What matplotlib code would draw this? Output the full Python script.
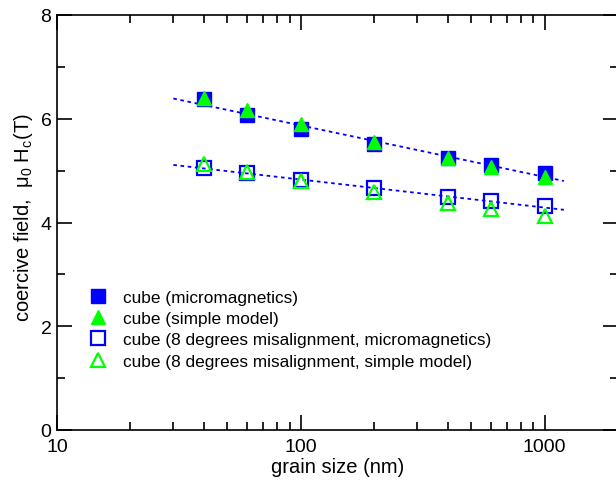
import matplotlib
matplotlib.use("Agg")
import matplotlib.pyplot as plt
from matplotlib.ticker import MultipleLocator, LogLocator, NullFormatter

plt.rcParams['font.family'] = ['Liberation Sans', 'DejaVu Sans']
plt.rcParams['mathtext.fontset'] = 'custom'
plt.rcParams['mathtext.rm'] = 'Liberation Sans'
plt.rcParams['mathtext.it'] = 'Liberation Sans'

# grain size (nm)
grain_size = [40, 60, 100, 200, 400, 600, 1000]

# coercive field mu0 Hc (T)
cube_micro = [6.38, 6.08, 5.81, 5.51, 5.25, 5.10, 4.95]
cube_simple = [6.40, 6.17, 5.89, 5.55, 5.25, 5.07, 4.87]
mis_micro = [5.06, 4.95, 4.81, 4.66, 4.50, 4.41, 4.31]
mis_simple = [5.12, 4.97, 4.80, 4.58, 4.37, 4.26, 4.12]

# dotted fit lines (endpoints)
fit_x = [30, 1200]
fit_upper = [6.39, 4.80]
fit_lower = [5.11, 4.245]

labels = ['cube (micromagnetics)',
          'cube (simple model)',
          'cube (8 degrees misalignment, micromagnetics)',
          'cube (8 degrees misalignment, simple model)']

blue = '#0000ff'
green = '#00ff00'

fig = plt.figure(figsize=(6.16, 4.81), dpi=100)
ax = fig.add_axes([57 / 616, 50 / 481, 561 / 616, 415 / 481])

ax.plot(fit_x, fit_upper, linestyle=(0, (2, 2)), color=blue, lw=1.3, zorder=1)
ax.plot(fit_x, fit_lower, linestyle=(0, (2, 2)), color=blue, lw=1.3, zorder=1)

ax.plot(grain_size, cube_micro, 's', color=blue, ms=9.5, mec=blue,
        label=labels[0], zorder=2)
ax.plot(grain_size, mis_micro, 's', mfc='none', mec=blue, ms=9.5, mew=1.6,
        label=labels[2], zorder=2)
ax.plot(grain_size, cube_simple, '^', color=green, ms=10, mec=green,
        label=labels[1], zorder=3)
ax.plot(grain_size, mis_simple, '^', mfc='none', mec=green, ms=10, mew=1.6,
        label=labels[3], zorder=3)

ax.set_xscale('log')
ax.set_xlim(10, 2000)
ax.set_ylim(0, 8)
ax.xaxis.set_minor_locator(LogLocator(base=10, subs=range(2, 10), numticks=20))
ax.xaxis.set_minor_formatter(NullFormatter())
ax.set_xticks([10, 100, 1000])
ax.set_xticklabels(['10', '100', '1000'])
ax.yaxis.set_major_locator(MultipleLocator(2))
ax.yaxis.set_minor_locator(MultipleLocator(1))

ax.tick_params(which='both', direction='in', top=True, right=True,
               labelsize=14, width=1.2)
ax.tick_params(which='major', length=10.5)
ax.tick_params(axis='x', which='major', pad=5.5)
ax.tick_params(axis='y', which='major', pad=4)
ax.tick_params(which='minor', length=5.5)
for sp in ax.spines.values():
    sp.set_linewidth(1.2)

ax.set_xlabel('grain size (nm)', fontsize=14.5, labelpad=1.5)
ax.set_ylabel(r'coercive field,  $\mathrm{\mu_0\ H_c(T)}$', fontsize=14.5)
ax.yaxis.set_label_coords(-0.04, 0.515)

handles, labs = ax.get_legend_handles_labels()
order = [labs.index(l) for l in labels]
ax.legend([handles[i] for i in order], [labs[i] for i in order],
          loc='center left', bbox_to_anchor=(0.055, 0.243), frameon=False,
          fontsize=12.4, handlelength=1.2, handletextpad=0.85,
          labelspacing=0.37, borderpad=0, borderaxespad=0)

fig.savefig('out.png', dpi=100)
